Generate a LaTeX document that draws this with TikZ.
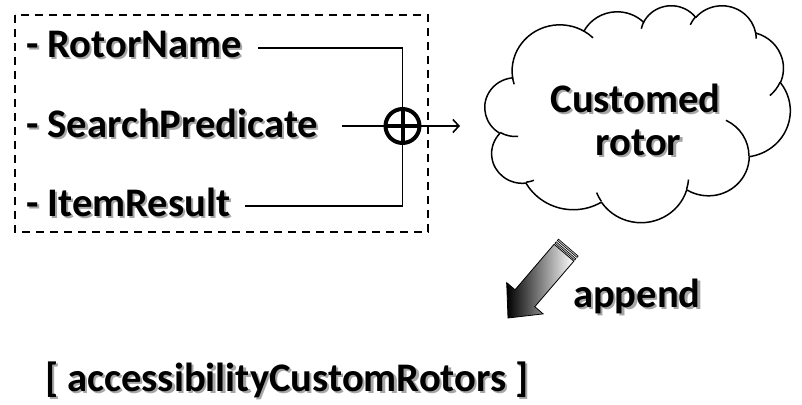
\documentclass[tikz,border=0pt]{standalone}
\usepackage{fontspec}
\setmainfont{Carlito}
\usetikzlibrary{arrows.meta,calc}
% visual (OOXML) angle -> parametric angle, kept continuous
\newcommand\ootp[3]{(#3)+(atan2(#1*sin(#3),#2*cos(#3))-(#3))-360*round((atan2(#1*sin(#3),#2*cos(#3))-(#3))/360)}
\newcommand\shd[1]{\makebox[0pt][l]{\kern2.2pt\raisebox{-2.2pt}{\color{black!35}#1}}#1}
\tikzset{
  ooarc/.style n args={4}{insert path={arc[x radius={#1*0.0070602pt}, y radius={#2*0.0050231pt}, start angle={\ootp{#1}{#2}{#3}}, end angle={\ootp{#1}{#2}{(#3)+(#4)}}]}},
  txt/.style={inner sep=0pt, outer sep=0pt, font=\fontsize{40.6}{48}\selectfont\bfseries},
  conn/.style={line width=1.6pt},
  groupbox/.style={line width=1.5pt, dash pattern=on 8pt off 6pt},
  sumnode/.style={circle, draw, line width=4pt, minimum size=34pt, inner sep=0pt, outer sep=0pt},
  cloudline/.style={line width=1.5pt, line join=round},
}
\begin{document}
\begin{tikzpicture}[x=1pt, y=-1pt]
\useasboundingbox (0,0) rectangle (802,404);
\fill[white] (0,0) rectangle (802,404);

% group frame
\draw[groupbox] (15,15) rectangle (428,232);

% field labels
\node[txt, anchor=base west] (rn) at (26,57) {\shd{- RotorName}};
\node[txt, anchor=base west] (sp) at (26,137) {\shd{- SearchPredicate}};
\node[txt, anchor=base west] (ir) at (26,216) {\shd{- ItemResult}};

% combining operator
\node[sumnode] (sum) at (402.5,126) {};
\coordinate (rnl) at (258,48);
\coordinate (spl) at (342,126);
\coordinate (irl) at (245,206);
\coordinate (arrend) at (460,126);
\draw[conn] (rnl) -| (sum.north);
\draw[conn] (irl) -| (sum.south);
\draw[conn] (spl) -- (sum.west);
\draw[conn, -{Straight Barb[length=6pt,width=13pt]}] (sum.east) -- (arrend);
\draw[line width=4pt] (sum.north) -- (sum.south) (sum.west) -- (sum.east);

% cloud (OOXML preset geometry, 43200 box -> 305 x 217)
\begin{scope}[shift={(485,5)}, yscale=-1, x=0.70602pt, y=0.50231pt]
\draw[cloudline, fill=white] (39.00,143.70)
  [ooarc={6753}{9190}{-190.48748}{123.78053}]
  [ooarc={5333}{7267}{-144.10238}{89.94523}]
  [ooarc={4365}{5945}{-145.80792}{99.72302}]
  [ooarc={4857}{6595}{-130.98607}{117.24173}]
  [ooarc={5333}{7273}{-78.70888}{109.02692}]
  [ooarc={6775}{9220}{-46.26725}{130.269}]
  [ooarc={5785}{7867}{0.62502}{114.03333}]
  [ooarc={6752}{9215}{22.4516}{115.17255}]
  [ooarc={7720}{10543}{66.24263}{75.71102}]
  [ooarc={4360}{5918}{-274.94208}{146.73557}]
  [ooarc={4345}{5945}{-246.8285}{152.51885}] -- cycle;
\draw[cloudline]
  (46.93,261.77) [ooarc={4345}{5945}{86.742}{26.4295}]
  (69.28,348.99) [ooarc={4360}{5918}{73.6105}{11.4475}]
  (164.78,390.90) [ooarc={6752}{9215}{137.6242}{14.0811}]
  (288.27,347.51) [ooarc={6752}{9215}{6.4533}{15.9984}]
  (341.29,229.54) [ooarc={5785}{7867}{-70.2924}{70.9174}]
  (417.98,153.54) [ooarc={5333}{7273}{30.318}{27.7515}]
  (383.24,54.26) [ooarc={4857}{6595}{-13.7443}{14.8589}]
  (290.78,39.52) [ooarc={4857}{6595}{-149.1815}{18.1954}]
  (221.41,47.20) [ooarc={4365}{5945}{-163.4943}{17.6864}]
  (140.00,51.92) [ooarc={6753}{9190}{-66.707}{12.3194}]
  (41.27,157.89) [ooarc={6753}{9190}{157.6544}{11.8582}];
\end{scope}
\node[txt, anchor=base] (c1) at (635.5,112) {\shd{Customed}};
\node[txt, anchor=base] (c2) at (638.5,155) {\shd{rotor}};

% striped block arrow
\begin{scope}[shift={(508,318)}, rotate=49.4, x=1pt, y=1pt]
\shade[draw=black, line width=0.8pt, left color=black, right color=white]
  (0,0) -- (26,24) -- (26,13) -- (86,13) -- (86,-13) -- (26,-13) -- (26,-24) -- cycle;
\filldraw[draw=black, fill=gray!50, line width=0.6pt] (87.4,-13) rectangle (89.2,13);
\filldraw[draw=black, fill=gray!50, line width=0.6pt] (90.9,-13) rectangle (92.7,13);
\end{scope}
\node[txt, anchor=base west] (ap) at (573,307) {\shd{append}};

\node[txt, anchor=base west] (acr) at (45,391) {\shd{[ accessibilityCustomRotors ]}};
\end{tikzpicture}
\end{document}
